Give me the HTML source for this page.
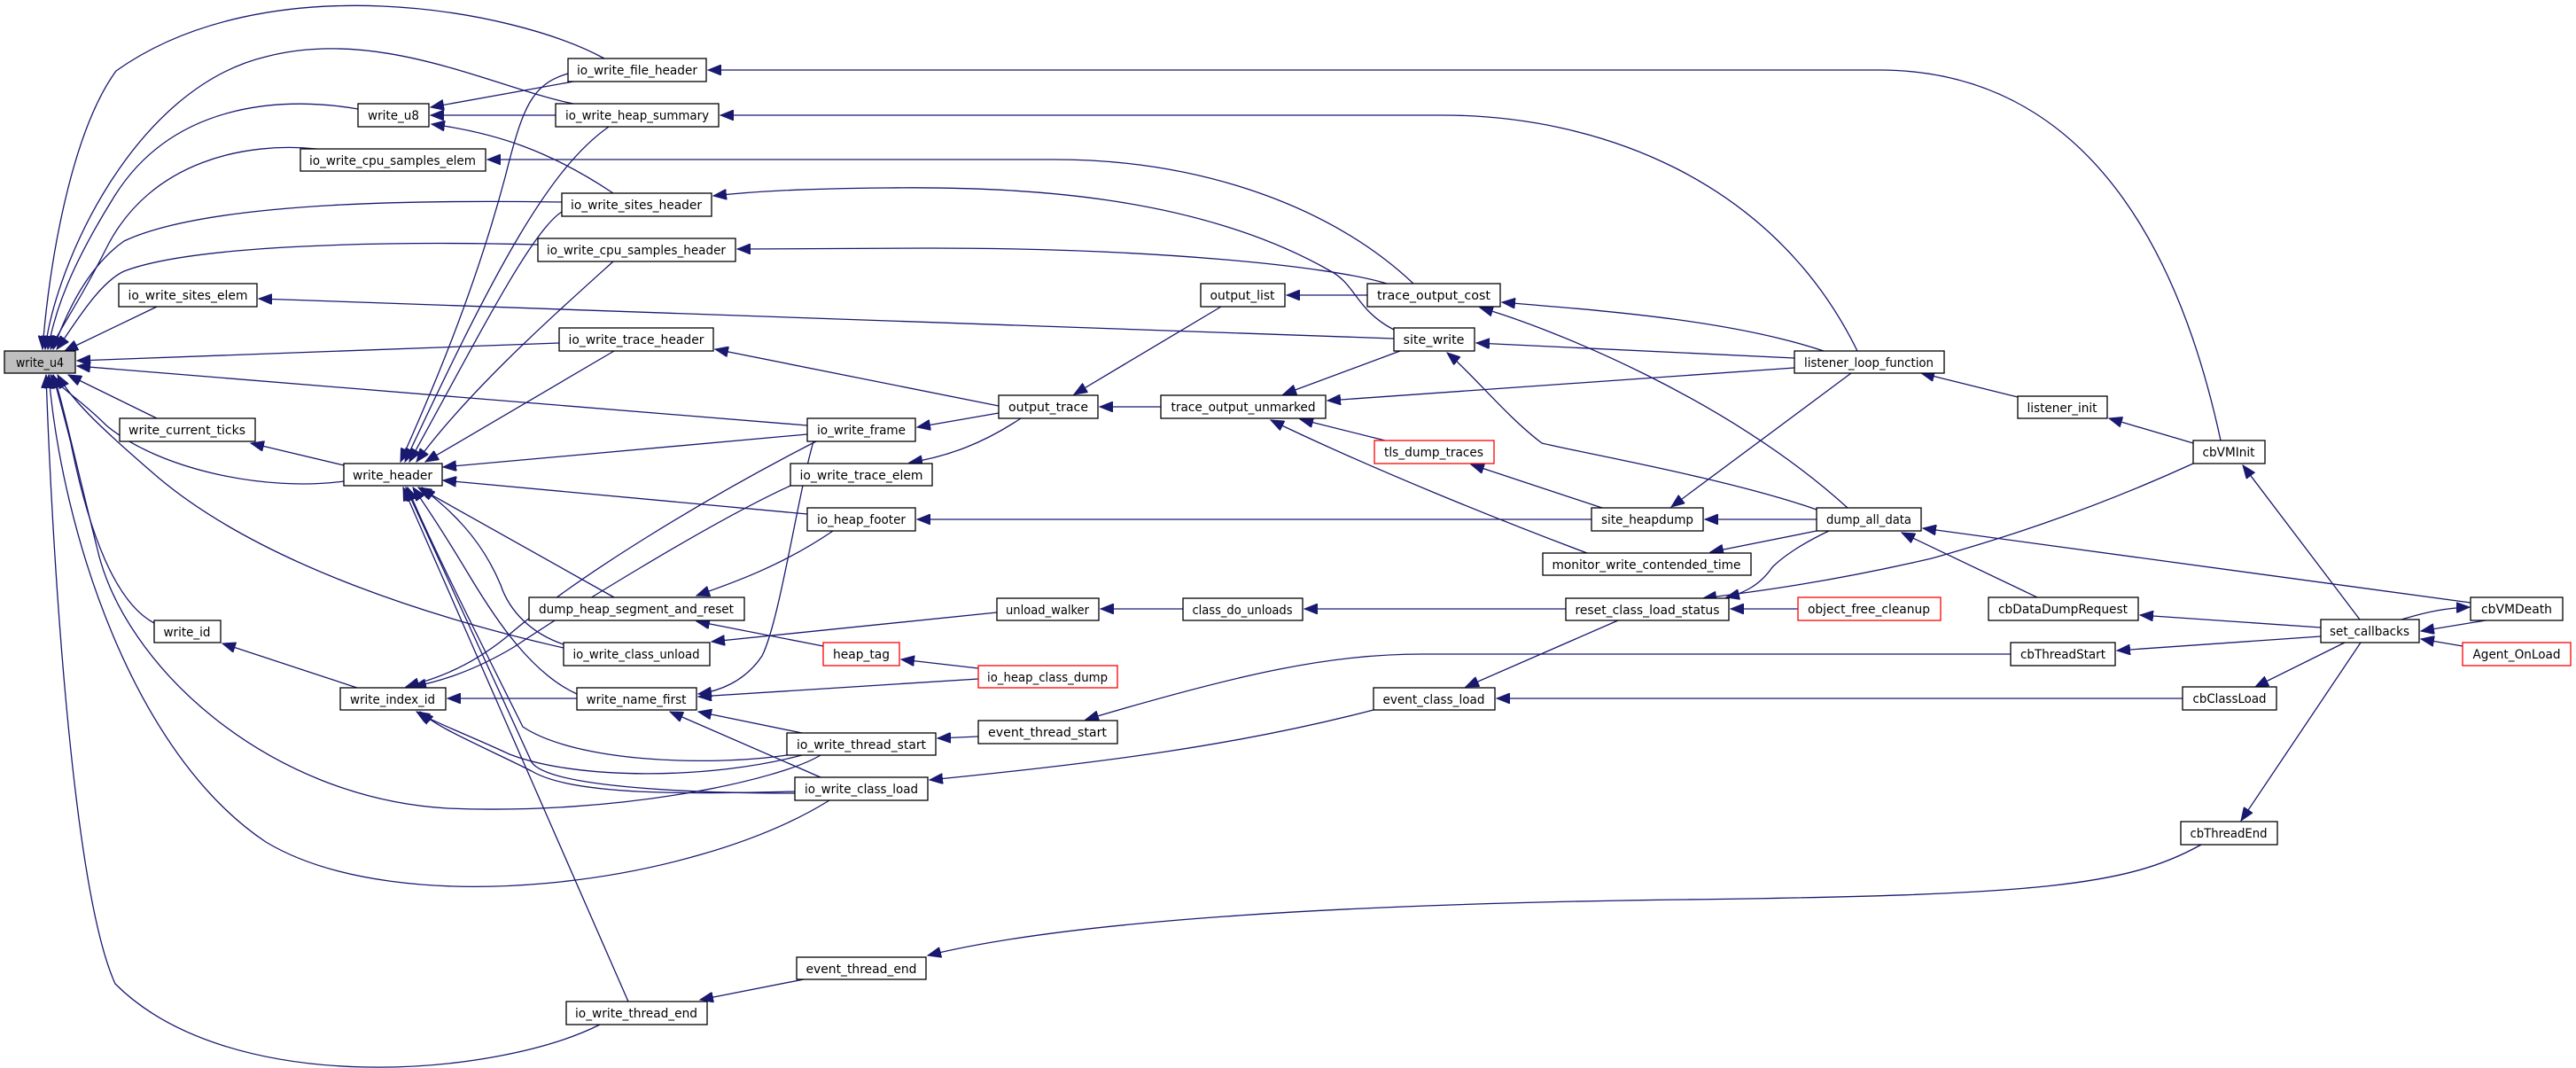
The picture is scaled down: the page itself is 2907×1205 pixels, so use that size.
<!DOCTYPE html>
<html><head><meta charset="utf-8"><style>
html,body{margin:0;padding:0;background:#fff;}
svg{display:block;}
text{font-family:"DejaVu Sans Condensed","DejaVu Sans","Liberation Sans",sans-serif;font-size:14px;fill:#000;}
.n{fill:#fff;stroke:#000;stroke-width:1.3;}
.g{fill:#bfbfbf;stroke:#000;stroke-width:1.3;}
.r{fill:#fff;stroke:#f00;stroke-width:1.3;}
.e{fill:none;stroke:#191970;stroke-width:1.3;marker-end:url(#a);}
</style></head><body>
<svg width="2907" height="1205" viewBox="0 0 2907 1205" xmlns="http://www.w3.org/2000/svg">
<defs><marker id="a" markerUnits="userSpaceOnUse" markerWidth="16" markerHeight="12" refX="15" refY="6" orient="auto"><path d="M0,0 L15,6 L0,12 Z" fill="#191970" stroke="#191970"/></marker></defs>
<g>
<!-- edges to write_u4 -->
<path class="e" d="M682,66 C580,10 300,-40 131,80 C80,150 55,300 48,394"/>
<path class="e" d="M647,117 C560,100 430,30 300,64 C150,100 62,300 51,394"/>
<path class="e" d="M404,123 C330,110 200,110 130,220 C80,300 62,350 54,394"/>
<path class="e" d="M357,168 C280,160 170,180 120,280 C90,340 68,370 57,394"/>
<path class="e" d="M634,228 C500,226 240,225 140,272 C100,300 76,350 60,394"/>
<path class="e" d="M607,276 C450,272 220,275 140,306 C110,320 82,370 64,394"/>
<path class="e" d="M177,346 L73,396"/>
<path class="e" d="M631,387 L87,407"/>
<path class="e" d="M911,480 L87,413"/>
<path class="e" d="M177,472 L77,423"/>
<path class="e" d="M388,543 C300,555 180,530 120,480 C90,450 70,440 57,423"/>
<path class="e" d="M636,731 C500,700 300,640 180,540 C110,480 80,450 65,423"/>
<path class="e" d="M936,903 C780,1000 450,1040 300,950 C150,850 70,600 55,423"/>
<path class="e" d="M926,852 C880,880 700,920 505,912 C300,900 140,750 110,620 C80,500 70,450 60,423"/>
<path class="e" d="M677,1156 C560,1215 260,1240 130,1110 C80,1000 58,600 52,423"/>
<path class="e" d="M174,703 C130,680 100,600 80,500 C70,460 64,440 60,423"/>
<!-- write_u8 -->
<path class="e" d="M647,92 L486,121"/>
<path class="e" d="M627,130 L486,130"/>
<path class="e" d="M692,218 C620,170 560,150 487,140"/>
<!-- write_header -->
<path class="e" d="M641,83 C600,95 590,120 570,200 C530,350 470,480 452,521"/>
<path class="e" d="M687,143 C620,190 560,300 457,521"/>
<path class="e" d="M634,239 C600,260 540,380 462,521"/>
<path class="e" d="M692,295 C620,360 530,440 470,521"/>
<path class="e" d="M693,396 L480,521"/>
<path class="e" d="M911,490 L500,527"/>
<path class="e" d="M911,580 L500,542"/>
<path class="e" d="M693,674 L472,550"/>
<path class="e" d="M636,727 C600,715 575,690 565,660 C540,600 500,570 476,550"/>
<path class="e" d="M651,783 C600,760 560,700 530,650 C500,600 480,570 466,550"/>
<path class="e" d="M888,852 C800,865 650,860 590,820 C530,700 480,600 460,550"/>
<path class="e" d="M897,895 C800,895 620,890 600,860 L458,550"/>
<path class="e" d="M709,1130 L455,550"/>
<path class="e" d="M388,525 L283,500"/>
<!-- write_id / write_index_id -->
<path class="e" d="M403,776 L251,726"/>
<path class="e" d="M651,788 L505,788"/>
<path class="e" d="M921,498 C800,560 650,650 570,720 C520,760 475,770 458,775"/>
<path class="e" d="M892,548 C800,590 640,690 580,730 C530,760 490,770 466,775"/>
<path class="e" d="M905,852 C800,880 650,880 575,851 C530,830 490,815 470,803"/>
<path class="e" d="M897,893 C800,895 650,900 600,870 C540,840 495,822 474,803"/>
<!-- write_name_first -->
<path class="e" d="M905,827 L788,803"/>
<path class="e" d="M926,877 L756,803"/>
<path class="e" d="M1104,766 L788,786"/>
<path class="e" d="M918,498 C900,560 880,700 860,740 C840,770 810,780 788,783"/>
<!-- dump_heap / heap_tag / class_unload -->
<path class="e" d="M940,599 C880,640 820,660 786,672"/>
<path class="e" d="M929,729 L786,701"/>
<path class="e" d="M1104,754 L1017,744"/>
<path class="e" d="M1125,691 L803,724"/>
<!-- output_trace etc -->
<path class="e" d="M1127,466 L1035,482"/>
<path class="e" d="M1152,472 C1110,500 1070,515 1026,522"/>
<path class="e" d="M1796,586 L1035,586"/>
<path class="e" d="M1127,458 L807,394"/>
<path class="e" d="M1573,382 L292,337"/>
<path class="e" d="M2506,497 C2470,330 2380,79 2120,79 L799,79"/>
<path class="e" d="M2096,396 C2000,200 1800,130 1628,130 L813,130"/>
<path class="e" d="M1595,320 C1500,230 1350,180 1190,180 L550,180"/>
<path class="e" d="M1573,372 C1530,350 1530,320 1500,305 C1350,220 1150,210 1000,212 C900,213 850,216 805,221"/>
<path class="e" d="M1565,320 C1500,300 1300,280 1050,280 L832,281"/>
<path class="e" d="M1543,333 L1452,333"/>
<path class="e" d="M1378,346 L1212,445"/>
<path class="e" d="M1310,459 L1241,459"/>
<path class="e" d="M1580,396 L1448,445"/>
<path class="e" d="M2025,415 L1498,452"/>
<path class="e" d="M1563,497 L1467,473"/>
<path class="e" d="M1791,624 C1700,590 1550,530 1434,474"/>
<path class="e" d="M2058,396 C1950,360 1800,350 1695,341"/>
<path class="e" d="M2085,573 C1950,450 1750,370 1670,347"/>
<path class="e" d="M2025,404 L1666,387"/>
<path class="e" d="M2050,575 C1950,540 1780,510 1740,500 C1700,470 1660,420 1633,398"/>
<path class="e" d="M1808,573 L1660,524"/>
<path class="e" d="M2050,586 L1924,586"/>
<path class="e" d="M2089,421 L1886,572"/>
<path class="e" d="M2050,599 L1930,623"/>
<path class="e" d="M2064,599 C2030,615 2010,630 2000,640 C1985,662 1965,670 1948,674"/>
<path class="e" d="M2475,523 C2350,580 2250,610 2180,630 C2050,660 1960,670 1922,675"/>
<path class="e" d="M2029,687 L1953,687"/>
<path class="e" d="M1767,687 L1472,687"/>
<path class="e" d="M1335,687 L1242,687"/>
<path class="e" d="M1826,700 L1654,775"/>
<path class="e" d="M2463,788 L1689,788"/>
<path class="e" d="M1550,801 C1400,840 1250,860 1049,880"/>
<path class="e" d="M1104,831 L1058,833"/>
<path class="e" d="M2269,738 L1606,738 C1500,738 1400,760 1225,812"/>
<path class="e" d="M907,1105 L790,1128"/>
<path class="e" d="M2484,953 C2400,1000 2300,1010 1900,1015 C1500,1020 1200,1040 1047,1078"/>
<path class="e" d="M2277,448 L2168,421"/>
<path class="e" d="M2475,500 L2380,472"/>
<path class="e" d="M2299,674 L2146,601"/>
<path class="e" d="M2788,680 L2170,596"/>
<path class="e" d="M2663,699 L2531,525"/>
<path class="e" d="M2619,708 L2415,694"/>
<path class="e" d="M2619,718 L2389,734"/>
<path class="e" d="M2646,725 L2545,775"/>
<path class="e" d="M2664,725 L2529,926"/>
<path class="e" d="M2710,699 C2740,690 2760,686 2787,685"/>
<path class="e" d="M2805,700 L2732,712"/>
<path class="e" d="M2779,729 L2732,721"/>
</g>
<g>
<rect class="g" x="5" y="396" width="80" height="25"/><text x="45" y="414" text-anchor="middle" textLength="54" lengthAdjust="spacingAndGlyphs">write_u4</text>
<rect class="n" x="641" y="66" width="156" height="26"/><text x="719" y="84" text-anchor="middle" textLength="136" lengthAdjust="spacingAndGlyphs">io_write_file_header</text>
<rect class="n" x="404" y="117" width="80" height="26"/><text x="444" y="135" text-anchor="middle" textLength="58" lengthAdjust="spacingAndGlyphs">write_u8</text>
<rect class="n" x="627" y="117" width="184" height="26"/><text x="719" y="135" text-anchor="middle" textLength="162" lengthAdjust="spacingAndGlyphs">io_write_heap_summary</text>
<rect class="n" x="339" y="168" width="209" height="25"/><text x="443" y="186" text-anchor="middle" textLength="188" lengthAdjust="spacingAndGlyphs">io_write_cpu_samples_elem</text>
<rect class="n" x="634" y="218" width="169" height="26"/><text x="718" y="236" text-anchor="middle" textLength="148" lengthAdjust="spacingAndGlyphs">io_write_sites_header</text>
<rect class="n" x="607" y="269" width="223" height="26"/><text x="718" y="287" text-anchor="middle" textLength="202" lengthAdjust="spacingAndGlyphs">io_write_cpu_samples_header</text>
<rect class="n" x="134" y="320" width="156" height="26"/><text x="212" y="338" text-anchor="middle" textLength="135" lengthAdjust="spacingAndGlyphs">io_write_sites_elem</text>
<rect class="n" x="631" y="370" width="174" height="26"/><text x="718" y="388" text-anchor="middle" textLength="153" lengthAdjust="spacingAndGlyphs">io_write_trace_header</text>
<rect class="n" x="135" y="472" width="153" height="26"/><text x="211" y="490" text-anchor="middle" textLength="132" lengthAdjust="spacingAndGlyphs">write_current_ticks</text>
<rect class="n" x="388" y="523" width="111" height="25"/><text x="443" y="541" text-anchor="middle" textLength="90" lengthAdjust="spacingAndGlyphs">write_header</text>
<rect class="n" x="911" y="472" width="122" height="26"/><text x="972" y="490" text-anchor="middle" textLength="100" lengthAdjust="spacingAndGlyphs">io_write_frame</text>
<rect class="n" x="892" y="523" width="160" height="25"/><text x="972" y="541" text-anchor="middle" textLength="139" lengthAdjust="spacingAndGlyphs">io_write_trace_elem</text>
<rect class="n" x="911" y="573" width="122" height="26"/><text x="972" y="591" text-anchor="middle" textLength="100" lengthAdjust="spacingAndGlyphs">io_heap_footer</text>
<rect class="n" x="597" y="674" width="243" height="26"/><text x="718" y="692" text-anchor="middle" textLength="220" lengthAdjust="spacingAndGlyphs">dump_heap_segment_and_reset</text>
<rect class="n" x="174" y="700" width="75" height="25"/><text x="211" y="718" text-anchor="middle" textLength="53" lengthAdjust="spacingAndGlyphs">write_id</text>
<rect class="n" x="636" y="725" width="165" height="26"/><text x="718" y="743" text-anchor="middle" textLength="143" lengthAdjust="spacingAndGlyphs">io_write_class_unload</text>
<rect class="r" x="929" y="725" width="86" height="26"/><text x="972" y="743" text-anchor="middle" textLength="64" lengthAdjust="spacingAndGlyphs">heap_tag</text>
<rect class="n" x="384" y="776" width="119" height="25"/><text x="443" y="794" text-anchor="middle" textLength="96" lengthAdjust="spacingAndGlyphs">write_index_id</text>
<rect class="n" x="651" y="776" width="135" height="25"/><text x="718" y="794" text-anchor="middle" textLength="113" lengthAdjust="spacingAndGlyphs">write_name_first</text>
<rect class="n" x="888" y="827" width="168" height="25"/><text x="972" y="845" text-anchor="middle" textLength="146" lengthAdjust="spacingAndGlyphs">io_write_thread_start</text>
<rect class="n" x="897" y="877" width="150" height="26"/><text x="972" y="895" text-anchor="middle" textLength="128" lengthAdjust="spacingAndGlyphs">io_write_class_load</text>
<rect class="n" x="899" y="1080" width="146" height="25"/><text x="972" y="1098" text-anchor="middle" textLength="125" lengthAdjust="spacingAndGlyphs">event_thread_end</text>
<rect class="n" x="639" y="1130" width="159" height="26"/><text x="718" y="1148" text-anchor="middle" textLength="138" lengthAdjust="spacingAndGlyphs">io_write_thread_end</text>
<rect class="n" x="1355" y="320" width="95" height="26"/><text x="1402" y="338" text-anchor="middle" textLength="73" lengthAdjust="spacingAndGlyphs">output_list</text>
<rect class="n" x="1543" y="320" width="150" height="26"/><text x="1618" y="338" text-anchor="middle" textLength="128" lengthAdjust="spacingAndGlyphs">trace_output_cost</text>
<rect class="n" x="1573" y="370" width="91" height="26"/><text x="1618" y="388" text-anchor="middle" textLength="69" lengthAdjust="spacingAndGlyphs">site_write</text>
<rect class="n" x="1127" y="446" width="112" height="26"/><text x="1183" y="464" text-anchor="middle" textLength="90" lengthAdjust="spacingAndGlyphs">output_trace</text>
<rect class="n" x="1310" y="446" width="186" height="26"/><text x="1403" y="464" text-anchor="middle" textLength="163" lengthAdjust="spacingAndGlyphs">trace_output_unmarked</text>
<rect class="r" x="1551" y="497" width="135" height="26"/><text x="1618" y="515" text-anchor="middle" textLength="112" lengthAdjust="spacingAndGlyphs">tls_dump_traces</text>
<rect class="n" x="1796" y="573" width="126" height="26"/><text x="1859" y="591" text-anchor="middle" textLength="104" lengthAdjust="spacingAndGlyphs">site_heapdump</text>
<rect class="n" x="2025" y="396" width="169" height="25"/><text x="2109" y="414" text-anchor="middle" textLength="146" lengthAdjust="spacingAndGlyphs">listener_loop_function</text>
<rect class="n" x="2277" y="447" width="101" height="25"/><text x="2327" y="465" text-anchor="middle" textLength="79" lengthAdjust="spacingAndGlyphs">listener_init</text>
<rect class="n" x="2475" y="497" width="81" height="26"/><text x="2515" y="515" text-anchor="middle" textLength="59" lengthAdjust="spacingAndGlyphs">cbVMInit</text>
<rect class="n" x="2050" y="573" width="118" height="26"/><text x="2109" y="591" text-anchor="middle" textLength="96" lengthAdjust="spacingAndGlyphs">dump_all_data</text>
<rect class="n" x="1741" y="624" width="235" height="25"/><text x="1858" y="642" text-anchor="middle" textLength="213" lengthAdjust="spacingAndGlyphs">monitor_write_contended_time</text>
<rect class="n" x="1767" y="675" width="184" height="25"/><text x="1859" y="693" text-anchor="middle" textLength="163" lengthAdjust="spacingAndGlyphs">reset_class_load_status</text>
<rect class="r" x="2029" y="674" width="161" height="26"/><text x="2109" y="692" text-anchor="middle" textLength="138" lengthAdjust="spacingAndGlyphs">object_free_cleanup</text>
<rect class="n" x="2244" y="674" width="169" height="26"/><text x="2328" y="692" text-anchor="middle" textLength="146" lengthAdjust="spacingAndGlyphs">cbDataDumpRequest</text>
<rect class="n" x="2788" y="674" width="104" height="26"/><text x="2840" y="692" text-anchor="middle" textLength="80" lengthAdjust="spacingAndGlyphs">cbVMDeath</text>
<rect class="n" x="2619" y="699" width="111" height="26"/><text x="2674" y="717" text-anchor="middle" textLength="90" lengthAdjust="spacingAndGlyphs">set_callbacks</text>
<rect class="r" x="2779" y="725" width="122" height="26"/><text x="2840" y="743" text-anchor="middle" textLength="99" lengthAdjust="spacingAndGlyphs">Agent_OnLoad</text>
<rect class="n" x="2269" y="725" width="118" height="26"/><text x="2328" y="743" text-anchor="middle" textLength="96" lengthAdjust="spacingAndGlyphs">cbThreadStart</text>
<rect class="n" x="2463" y="775" width="106" height="26"/><text x="2516" y="793" text-anchor="middle" textLength="83" lengthAdjust="spacingAndGlyphs">cbClassLoad</text>
<rect class="n" x="2461" y="927" width="109" height="26"/><text x="2515" y="945" text-anchor="middle" textLength="87" lengthAdjust="spacingAndGlyphs">cbThreadEnd</text>
<rect class="n" x="1125" y="675" width="115" height="25"/><text x="1182" y="693" text-anchor="middle" textLength="94" lengthAdjust="spacingAndGlyphs">unload_walker</text>
<rect class="n" x="1335" y="675" width="135" height="25"/><text x="1402" y="693" text-anchor="middle" textLength="113" lengthAdjust="spacingAndGlyphs">class_do_unloads</text>
<rect class="r" x="1104" y="751" width="157" height="25"/><text x="1182" y="769" text-anchor="middle" textLength="136" lengthAdjust="spacingAndGlyphs">io_heap_class_dump</text>
<rect class="n" x="1104" y="813" width="157" height="26"/><text x="1182" y="831" text-anchor="middle" textLength="134" lengthAdjust="spacingAndGlyphs">event_thread_start</text>
<rect class="n" x="1550" y="776" width="137" height="25"/><text x="1618" y="794" text-anchor="middle" textLength="115" lengthAdjust="spacingAndGlyphs">event_class_load</text>
</g>
</svg>
</body></html>
